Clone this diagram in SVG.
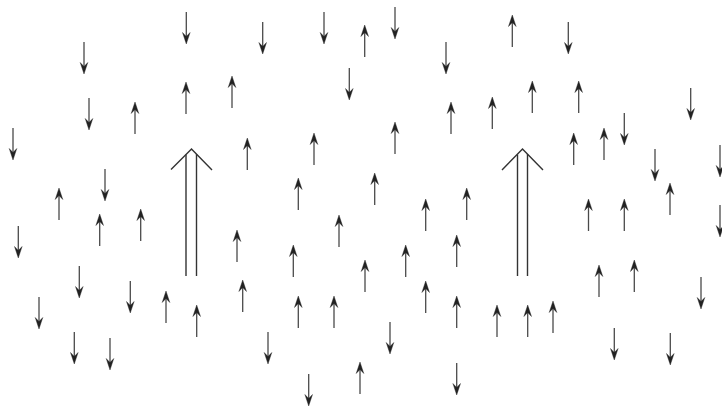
<svg xmlns="http://www.w3.org/2000/svg" xmlns:xlink="http://www.w3.org/1999/xlink" width="722" height="406" viewBox="0 0 722 406">
<style>
.shaft{stroke:#4a4a4a;stroke-width:1.3;fill:none}
.head{fill:#222;stroke:#222;stroke-width:0.4;stroke-linejoin:miter}
.big{stroke:#333;stroke-width:1.4;fill:none}
</style>
<defs>
<g id="up"><line class="shaft" x1="0" y1="3" x2="0" y2="32"/><path class="head" d="M0,0 L3.8,11.5 L0,7.5 L-3.8,11.5 Z"/></g>
<g id="dn"><line class="shaft" x1="0" y1="0" x2="0" y2="29"/><path class="head" d="M0,32 L3.8,20.5 L0,24.5 L-3.8,20.5 Z"/></g>
</defs>
<rect width="722" height="406" fill="#fff"/>
<g id="big-arrows">
<g id="big1"><line class="big" x1="186" y1="154.5" x2="186" y2="276"/><line class="big" x1="196.5" y1="154" x2="196.5" y2="276"/><polyline class="big" points="171,169.5 191.5,149 212,170"/></g>
<g id="big2"><line class="big" x1="517.5" y1="154.5" x2="517.5" y2="276"/><line class="big" x1="527.5" y1="154" x2="527.5" y2="276"/><polyline class="big" points="502,170 522.5,149 543,170"/></g>
</g>
<g id="up-arrows">
<use href="#up" x="186" y="82"/><use href="#up" x="232" y="76"/><use href="#up" x="135" y="102"/><use href="#up" x="364.7" y="25"/><use href="#up" x="512.3" y="15"/><use href="#up" x="532.3" y="81"/><use href="#up" x="578.7" y="81"/><use href="#up" x="492.3" y="97"/><use href="#up" x="451" y="102"/><use href="#up" x="395" y="122"/><use href="#up" x="314" y="133"/><use href="#up" x="247.3" y="138"/><use href="#up" x="573.7" y="133"/><use href="#up" x="604" y="128"/><use href="#up" x="59" y="188"/><use href="#up" x="99.7" y="214"/><use href="#up" x="140.7" y="209"/><use href="#up" x="298.3" y="178"/><use href="#up" x="374.7" y="173"/><use href="#up" x="425.7" y="199"/><use href="#up" x="466.7" y="188"/><use href="#up" x="588.5" y="199"/><use href="#up" x="624.3" y="199"/><use href="#up" x="670" y="183"/><use href="#up" x="237" y="230"/><use href="#up" x="339" y="215"/><use href="#up" x="293.3" y="245"/><use href="#up" x="456.7" y="235"/><use href="#up" x="405.7" y="245"/><use href="#up" x="365" y="260"/><use href="#up" x="599" y="265"/><use href="#up" x="634.3" y="260"/><use href="#up" x="242.7" y="280"/><use href="#up" x="166" y="291"/><use href="#up" x="196.7" y="305"/><use href="#up" x="298.3" y="296"/><use href="#up" x="334" y="296"/><use href="#up" x="425.7" y="281"/><use href="#up" x="456.7" y="296"/><use href="#up" x="497" y="305"/><use href="#up" x="527.7" y="305"/><use href="#up" x="553" y="301"/><use href="#up" x="360" y="362"/>
</g>
<g id="down-arrows">
<use href="#dn" x="186.3" y="12"/><use href="#dn" x="84" y="42"/><use href="#dn" x="262.7" y="22"/><use href="#dn" x="324" y="12"/><use href="#dn" x="395" y="7"/><use href="#dn" x="446" y="42"/><use href="#dn" x="568.3" y="22"/><use href="#dn" x="349.3" y="68"/><use href="#dn" x="89" y="98"/><use href="#dn" x="13" y="128"/><use href="#dn" x="105" y="169"/><use href="#dn" x="690.7" y="88"/><use href="#dn" x="624.3" y="113"/><use href="#dn" x="655" y="149"/><use href="#dn" x="720" y="145"/><use href="#dn" x="720" y="205"/><use href="#dn" x="18.3" y="226"/><use href="#dn" x="79.3" y="266"/><use href="#dn" x="39" y="297"/><use href="#dn" x="130.3" y="281"/><use href="#dn" x="74.3" y="332"/><use href="#dn" x="110" y="338"/><use href="#dn" x="268" y="332"/><use href="#dn" x="390" y="322"/><use href="#dn" x="308.7" y="374"/><use href="#dn" x="456.7" y="363"/><use href="#dn" x="701" y="277"/><use href="#dn" x="614.3" y="328"/><use href="#dn" x="670.3" y="333"/>
</g>
</svg>
